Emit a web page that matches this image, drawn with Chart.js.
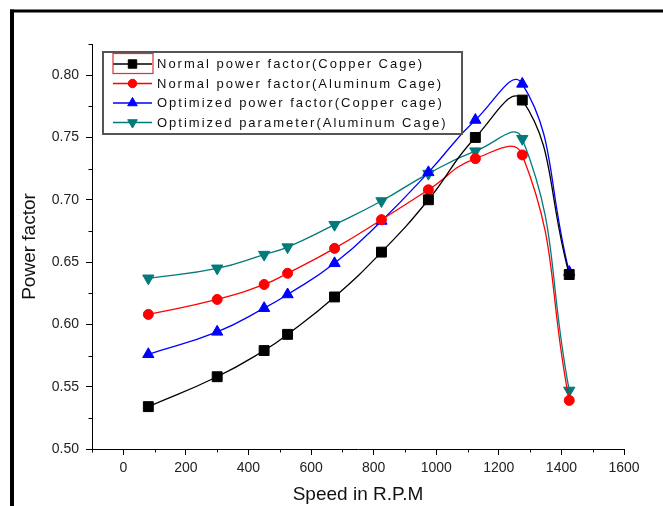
<!DOCTYPE html>
<html>
<head>
<meta charset="utf-8">
<script src="https://cdn.jsdelivr.net/npm/chart.js@4.4.1/dist/chart.umd.min.js"></script>
<style>
  html, body { margin: 0; padding: 0; background: #fff; }
  #wrap { position: relative; width: 663px; height: 506px; }
</style>
</head>
<body>
<div id="wrap"><canvas id="chart" width="663" height="506"></canvas></div>
<script>
// Speed (R.P.M) at which each power factor was measured
const speed = [80, 300, 450, 525, 675, 825, 975, 1125, 1275, 1425]

// Power factor series
const normalCopper = [0.534, 0.558, 0.579, 0.592, 0.622, 0.658, 0.700, 0.750, 0.780, 0.640]
const normalAluminum = [0.608, 0.620, 0.632, 0.641, 0.661, 0.684, 0.708, 0.733, 0.736, 0.539]
const optimizedCopper = [0.576, 0.594, 0.613, 0.624, 0.649, 0.683, 0.722, 0.764, 0.793, 0.642]
const optimizedAluminum = [0.637, 0.645, 0.656, 0.662, 0.680, 0.699, 0.721, 0.739, 0.749, 0.547]

const seriesLabels = [
  'Normal power factor(Copper Cage)',
  'Normal power factor(Aluminum Cage)',
  'Optimized power factor(Copper cage)',
  'Optimized parameter(Aluminum Cage)'
]

// Axis ticks (major labelled, minor unlabelled)
const xMajorTicks = [0, 200, 400, 600, 800, 1000, 1200, 1400, 1600]
const xMinorTicks = [-100, 100, 300, 500, 700, 900, 1100, 1300, 1500]
const yMajorTicks = [0.50, 0.55, 0.60, 0.65, 0.70, 0.75, 0.80]
const yMinorTicks = [0.525, 0.575, 0.625, 0.675, 0.725, 0.775, 0.825]

const FONT = '"Liberation Sans", Arial, sans-serif'

const toPoints = (values) => values.map((v, i) => ({ x: speed[i], y: v }))

const makeSet = (label, values, color, pointStyle, radius, rotation = 0) => ({
  label,
  data: toPoints(values),
  borderColor: color,
  backgroundColor: color,
  borderWidth: 1.3,
  pointStyle,
  pointRadius: radius,
  pointRotation: rotation,
  pointBorderWidth: 1,
  pointBackgroundColor: color,
  pointBorderColor: color,
  tension: 0.47,
  clip: false
})

const datasets = [
  makeSet(seriesLabels[0], normalCopper, '#000000', 'rect', 7),
  makeSet(seriesLabels[1], normalAluminum, '#ff0000', 'circle', 5),
  makeSet(seriesLabels[2], optimizedCopper, '#0000ff', 'triangle', 6.5),
  makeSet(seriesLabels[3], optimizedAluminum, '#007a7a', 'triangle', 6.5, 180)
]

// Outer frame (top and left edges of the figure)
const framePlugin = {
  id: 'frame',
  beforeDraw(chart) {
    const { ctx, width, height } = chart
    ctx.save()
    ctx.fillStyle = '#ffffff'
    ctx.fillRect(0, 0, width, height)
    ctx.fillStyle = '#000000'
    ctx.fillRect(10, 9.5, width - 10, 3)
    ctx.fillRect(10, 9.5, 4, height - 9.5)
    ctx.restore()
  }
}

// Short minor ticks drawn from the scales
const minorTickPlugin = {
  id: 'minorTicks',
  afterDraw(chart) {
    const { ctx, scales } = chart
    const xs = scales.x
    const ys = scales.y
    ctx.save()
    ctx.strokeStyle = '#000'
    ctx.lineWidth = 1
    ctx.beginPath()
    for (const v of xMinorTicks) {
      const px = Math.round(xs.getPixelForValue(v)) + 0.5
      ctx.moveTo(px, ys.bottom)
      ctx.lineTo(px, ys.bottom + 3.5)
    }
    for (const v of yMinorTicks) {
      const py = Math.round(ys.getPixelForValue(v)) + 0.5
      ctx.moveTo(xs.left, py)
      ctx.lineTo(xs.left - 3.5, py)
    }
    ctx.stroke()
    ctx.restore()
  }
}

// Origin-style legend box with line + marker samples
const boxLegendPlugin = {
  id: 'boxLegend',
  afterDraw(chart) {
    const { ctx } = chart
    const box = { left: 103, top: 52, right: 462, bottom: 134 }
    const rowY = [64, 83.5, 103, 122.5]
    ctx.save()
    ctx.fillStyle = '#ffffff'
    ctx.fillRect(box.left, box.top, box.right - box.left, box.bottom - box.top)
    ctx.strokeStyle = '#555'
    ctx.lineWidth = 2
    ctx.strokeRect(box.left, box.top, box.right - box.left, box.bottom - box.top)

    chart.data.datasets.forEach((ds, i) => {
      const y = rowY[i]
      ctx.strokeStyle = ds.borderColor
      ctx.lineWidth = 1.3
      ctx.beginPath()
      ctx.moveTo(113, y)
      ctx.lineTo(152, y)
      ctx.stroke()
      ctx.fillStyle = ds.pointBackgroundColor
      ctx.strokeStyle = ds.pointBorderColor
      ctx.lineWidth = 1
      Chart.helpers.drawPoint(ctx, {
        pointStyle: ds.pointStyle,
        rotation: ds.pointRotation,
        radius: ds.pointRadius * 0.85,
        borderWidth: 1
      }, 132.5, y)

      ctx.fillStyle = '#111'
      ctx.font = '13px ' + FONT
      ctx.textBaseline = 'middle'
      ctx.textAlign = 'left'
      ctx.letterSpacing = '2px'
      ctx.fillText(ds.label, 157, y + 0.5)
      ctx.letterSpacing = '0px'
    })

    // selection highlight around the first sample
    ctx.strokeStyle = '#e03030'
    ctx.lineWidth = 1.2
    ctx.strokeRect(113, 53.5, 40, 20)
    ctx.restore()
  }
}

new Chart(document.getElementById('chart'), {
  type: 'line',
  data: { datasets },
  plugins: [framePlugin, minorTickPlugin, boxLegendPlugin],
  options: {
    responsive: false,
    animation: false,
    devicePixelRatio: 1,
    layout: { padding: { left: 0, right: 39, top: 44, bottom: 0 } },
    plugins: {
      legend: { display: false },
      tooltip: { enabled: false }
    },
    scales: {
      x: {
        type: 'linear',
        min: -100,
        max: 1600,
        afterFit(scale) { scale.height = 57 },
        afterBuildTicks(scale) { scale.ticks = xMajorTicks.map(v => ({ value: v })) },
        border: { display: true, color: '#000', width: 1 },
        grid: { drawOnChartArea: false, drawTicks: true, tickLength: 6, color: '#000' },
        ticks: {
          autoSkip: false,
          maxRotation: 0,
          padding: 5,
          color: '#222',
          font: { family: FONT, size: 14 },
          callback: (v) => String(v)
        },
        title: {
          display: true,
          text: 'Speed in R.P.M',
          color: '#111',
          font: { family: FONT, size: 19 },
          padding: { top: 0, bottom: 0 }
        }
      },
      y: {
        type: 'linear',
        min: 0.5,
        max: 0.825,
        afterFit(scale) { scale.width = 92 },
        afterBuildTicks(scale) { scale.ticks = yMajorTicks.map(v => ({ value: v })) },
        border: { display: true, color: '#000', width: 1 },
        grid: { drawOnChartArea: false, drawTicks: true, tickLength: 6, color: '#000' },
        ticks: {
          autoSkip: false,
          padding: 7,
          color: '#222',
          font: { family: FONT, size: 14 },
          callback: (v) => Number(v).toFixed(2)
        },
        title: {
          display: true,
          text: 'Power factor',
          color: '#111',
          font: { family: FONT, size: 19 },
          padding: { top: 18, bottom: 0 }
        }
      }
    }
  }
})
</script>
</body>
</html>
